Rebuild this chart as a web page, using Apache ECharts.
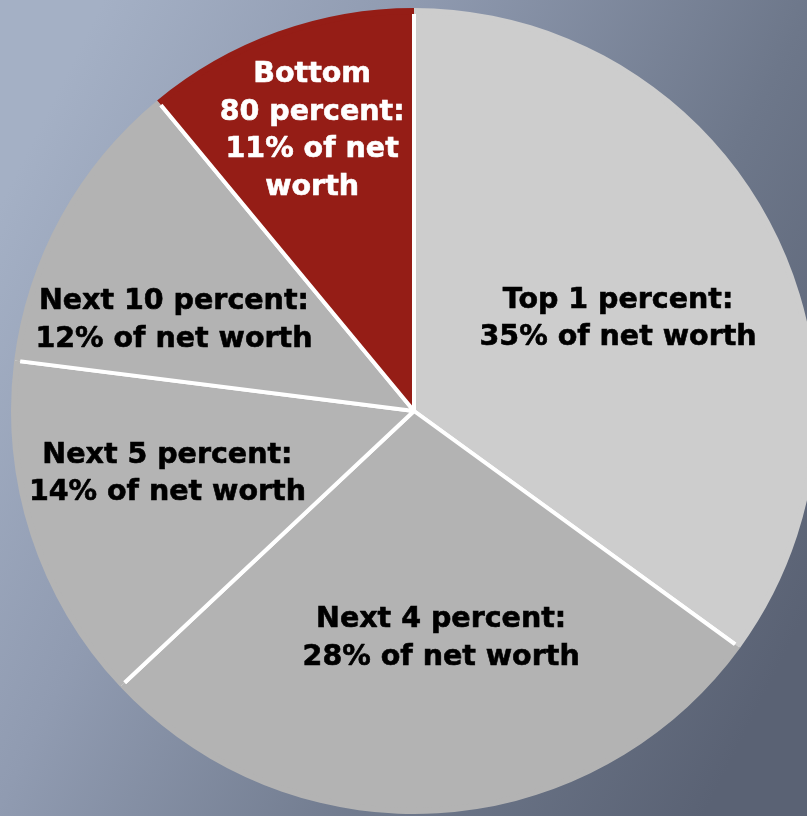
<!DOCTYPE html>
<html>
<head>
<meta charset="utf-8">
<script src="https://cdn.jsdelivr.net/npm/echarts@6/dist/echarts.min.js"></script>
<style>
  html, body { margin: 0; padding: 0; }
  #chart { width: 807px; height: 816px; }
</style>
</head>
<body>
<div id="chart"></div>
<script>
// Share of total net worth held by each wealth group
const groups = ['Top 1 percent', 'Next 4 percent', 'Next 5 percent', 'Next 10 percent', 'Bottom 80 percent'];
const shares = [35, 28, 14, 12, 11];

// Slice fills and label colours
const sliceColors = ['#cdcdcd', '#b3b3b3', '#b4b4b4', '#b3b3b3', '#951d16'];
const labelColors = ['#000000', '#000000', '#000000', '#000000', '#ffffff'];
// Label anchors in polar form: fraction of the radius and angle in degrees
const labelRadius = [0.557, 0.570, 0.633, 0.638, 0.741];
const labelAngle = [24.3, -83.2, -165.7, 159.4, 110.0];

const center = [414, 411];
const radius = 402;
const startAngle = 90;

function labelText(p) {
  if (p.dataIndex === 4) {
    const parts = p.name.split(' ');
    return parts[0] + '\n' + parts.slice(1).join(' ') + ':\n' + p.value + '% of net\nworth';
  }
  return p.name + ':\n' + p.value + '% of net worth';
}

const slices = groups.map((g, i) => ({
  name: g,
  value: shares[i],
  itemStyle: { color: sliceColors[i] },
  label: { color: labelColors[i], textBorderColor: labelColors[i] }
}));

const chart = echarts.init(document.getElementById('chart'), null, { renderer: 'canvas' });
chart.setOption({
  backgroundColor: {
    type: 'linear', x: 0, y: 0.25, x2: 1, y2: 0.75,
    colorStops: [
      { offset: 0, color: '#a4b0c5' },
      { offset: 0.3, color: '#909bb1' },
      { offset: 0.7, color: '#6d778a' },
      { offset: 1, color: '#5a6274' }
    ]
  },
  animation: false,
  series: [{
    type: 'pie',
    center: center,
    radius: radius - 2,
    startAngle: startAngle,
    clockwise: true,
    avoidLabelOverlap: false,
    itemStyle: { borderColor: '#ffffff', borderWidth: 4 },
    label: {
      show: true,
      position: 'inside',
      formatter: labelText,
      fontFamily: 'DejaVu Sans',
      fontWeight: 'bold',
      fontSize: 28.5,
      lineHeight: 37.5,
      textBorderWidth: 0.6,
      align: 'center'
    },
    labelLine: { show: false },
    labelLayout: function (p) {
      const a = labelAngle[p.dataIndex] * Math.PI / 180;
      const r = labelRadius[p.dataIndex] * radius;
      return {
        x: center[0] + r * Math.cos(a),
        y: center[1] - r * Math.sin(a),
        align: 'center',
        verticalAlign: 'middle'
      };
    },
    data: slices
  }, {
    // rim over the outer edge so the slices end without a wide white outline
    type: 'pie',
    center: center,
    radius: [radius - 5, radius + 1],
    startAngle: startAngle,
    clockwise: true,
    silent: true,
    label: { show: false },
    labelLine: { show: false },
    itemStyle: { borderWidth: 0 },
    data: groups.map((g, i) => ({ name: g, value: shares[i], itemStyle: { color: sliceColors[i] } }))
  }]
});
</script>
</body>
</html>
